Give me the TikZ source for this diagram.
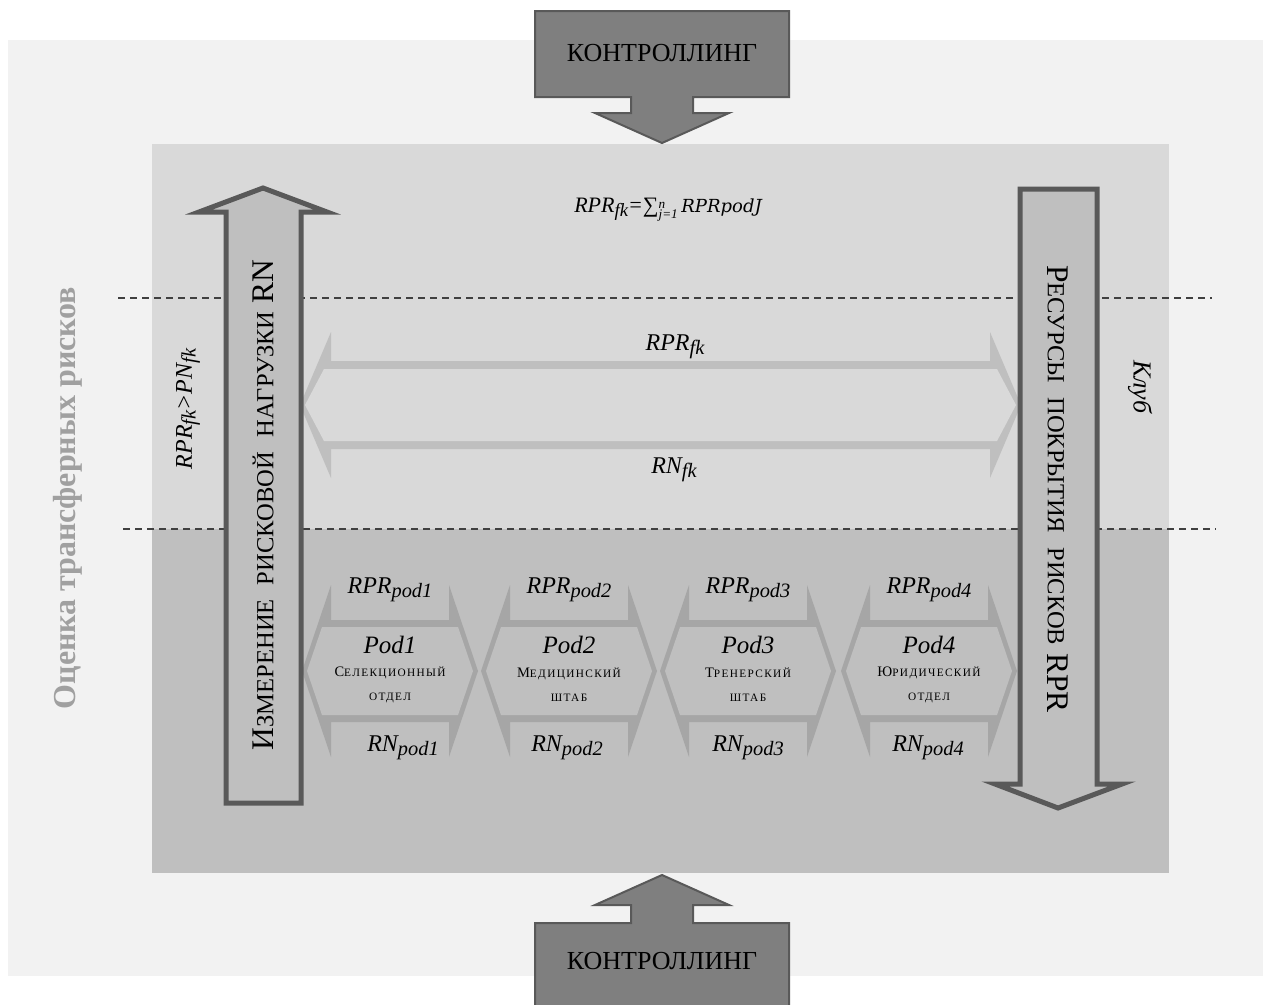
\documentclass[tikz,border=0pt]{standalone}
\usepackage{graphicx}
\usepackage{fontspec}
\setmainfont{Liberation Serif}
\newfontfamily\sumfont{DejaVu Serif}

\definecolor{outerbg}{HTML}{F2F2F2}
\definecolor{upperbg}{HTML}{D9D9D9}
\definecolor{lowerbg}{HTML}{BFBFBF}
\definecolor{podgrey}{HTML}{A6A6A6}
\definecolor{ctrlgrey}{HTML}{7F7F7F}
\definecolor{edgegrey}{HTML}{595959}
\definecolor{titlegrey}{HTML}{A0A0A0}

\newcommand\lowcaps[1]{\scalebox{0.78}{#1}}
\newcommand\lowsub[1]{\raisebox{-0.35ex}{\scalebox{0.85}{#1}}}
\newcommand\sumlimits[2]{\raisebox{-0.6ex}{\scalebox{0.6}{\shortstack[l]{#1\\#2}}}}

\begin{document}
\begin{tikzpicture}[x=1pt,y=-1pt,
  ctrl/.style={fill=ctrlgrey,draw=edgegrey,line width=2pt,miter limit=20},
  bigarrow/.style={fill=lowerbg,draw=edgegrey,line width=5pt,miter limit=20},
  separator/.style={draw=black!75,line width=1.3pt,dash pattern=on 7pt off 5pt},
  ctrltext/.style={font=\fontsize{26}{28}\selectfont},
  titletext/.style={font=\fontsize{32}{34}\selectfont\bfseries,text=titlegrey},
  armtext/.style={font=\fontsize{31.5}{34}\selectfont},
  mathtext/.style={font=\fontsize{24}{28}\selectfont\itshape},
  podname/.style={font=\fontsize{25}{28}\selectfont\itshape},
  poddesc/.style={font=\fontsize{14.5}{24}\selectfont\addfontfeature{LetterSpace=12},align=center}]
  \useasboundingbox (0,0) rectangle (1263,1004);

  \fill[outerbg] (8,40) rectangle (1263,976);
  \fill[upperbg] (152,144) rectangle (1169,529);
  \fill[lowerbg] (152,529) rectangle (1169,873);

  \draw[separator] (118,298) -- (1212,298);
  \draw[separator] (123,529) -- (1216,529);

  \fill[lowerbg] (300,405) -- (331,332) -- (331,361) -- (990,361) -- (990,332) -- (1021,405)
    -- (990,478) -- (990,449) -- (331,449) -- (331,478) -- cycle;
  \fill[upperbg] (305,405) -- (324,369) -- (997,369) -- (1016,405) -- (997,441) -- (324,441) -- cycle;

  \foreach \cx/\n/\first/\rest/\second/\rnx in {390/1/С/ЕЛЕКЦИОННЫЙ/ОТДЕЛ/403,
      569/2/М/ЕДИЦИНСКИЙ/ШТАБ/567, 748/3/Т/РЕНЕРСКИЙ/ШТАБ/748, 929/4/Ю/РИДИЧЕСКИЙ/ОТДЕЛ/928}{
    \begin{scope}[shift={(\cx,671)}]
      \fill[podgrey] (-88,0) -- (-59,-86) -- (-59,-51) -- (59,-51) -- (59,-86) -- (88,0)
        -- (59,86) -- (59,51) -- (-59,51) -- (-59,86) -- cycle;
      \fill[lowerbg] (-83,0) -- (-68,-44) -- (68,-44) -- (83,0) -- (68,44) -- (-68,44) -- cycle;
    \end{scope}
    \node[podname] (pod\n) at (\cx,645) {Pod\n};
    \node[poddesc] (desc\n) at (\cx,685) {\first\lowcaps{\rest}\\\lowcaps{\second}};
    \node[mathtext] (rpr\n) at (\cx,590) {RPR\lowsub{pod\n}};
    \node[mathtext] (rn\n) at (\rnx,748) {RN\lowsub{pod\n}};
  }

  \draw[bigarrow] (226,803) -- (226,212) -- (199,212) -- (263,188) -- (327,212) -- (301,212)
    -- (301,803) -- cycle;
  \draw[bigarrow] (1020,189) -- (1097,189) -- (1097,784) -- (1122,784) -- (1058,808)
    -- (995,784) -- (1020,784) -- cycle;

  \draw[ctrl] (535,11) -- (789,11) -- (789,97) -- (693,97) -- (693,113) -- (729,113) -- (662,143)
    -- (595,113) -- (631,113) -- (631,97) -- (535,97) -- cycle;
  \draw[ctrl] (535,1010) -- (535,923) -- (631,923) -- (631,905) -- (595,905) -- (662,875)
    -- (729,905) -- (693,905) -- (693,923) -- (789,923) -- (789,1010) -- cycle;

  \node[ctrltext] (ctrltop) at (662,53) {КОНТРОЛЛИНГ};
  \node[ctrltext] (ctrlbottom) at (662,961) {КОНТРОЛЛИНГ};

  \node[titletext,rotate=90] (title) at (68,498) {Оценка трансферных рисков};
  \node[mathtext,rotate=90] (ineq) at (188,409) {RPR\lowsub{fk}>PN\lowsub{fk}};
  \node[armtext,rotate=90] (loadtext) at (263,505)
    {И\lowcaps{ЗМЕРЕНИЕ}\hspace{0.45em}\lowcaps{РИСКОВОЙ}\hspace{0.45em}\lowcaps{НАГРУЗКИ} RN};
  \node[armtext,rotate=-90] (restext) at (1058,489)
    {Р\lowcaps{ЕСУРСЫ}\hspace{0.45em}\lowcaps{ПОКРЫТИЯ}\hspace{0.45em}\lowcaps{РИСКОВ} RPR};
  \node[mathtext,font=\fontsize{26}{28}\selectfont\itshape,rotate=-90] (club) at (1140,387) {Клуб};

  \node[font=\fontsize{22}{24}\selectfont\itshape] (sumformula) at (668,210)
    {RPR\lowsub{fk}={\upshape ∑}\sumlimits{\textit{n}}{\textit{j}=1}\,{\sumfont\fontsize{18}{20}\selectfont RPRpodJ}};
  \node[mathtext] (rprfk) at (675,347) {RPR\lowsub{fk}};
  \node[mathtext] (rnfk) at (674,470) {RN\lowsub{fk}};
\end{tikzpicture}
\end{document}
